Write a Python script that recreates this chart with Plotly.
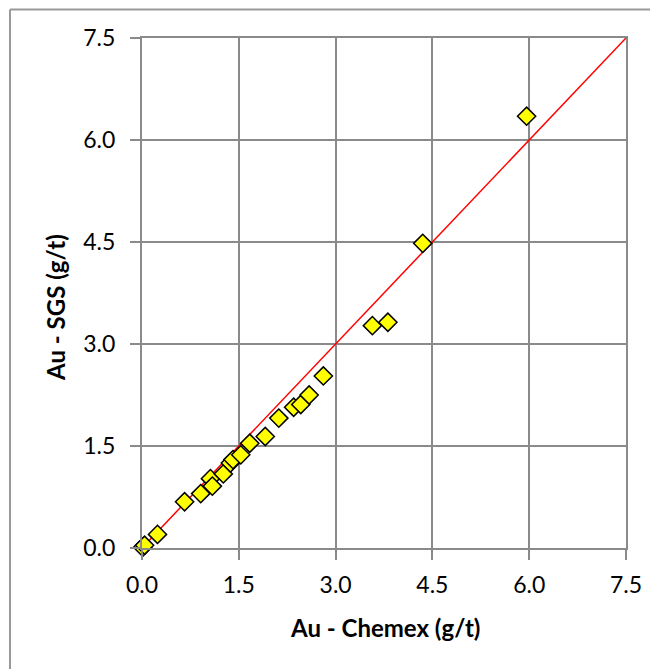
import plotly.graph_objects as go

# Data (g/t)
chemex = [0.01, 0.04, 0.24, 0.66, 0.91, 1.06, 1.09, 1.26, 1.37, 1.41, 1.53, 1.67,
          1.91, 2.12, 2.35, 2.46, 2.59, 2.81, 3.57, 3.81, 4.35, 5.96]
sgs = [0.01, 0.04, 0.20, 0.68, 0.80, 1.02, 0.91, 1.09, 1.25, 1.30, 1.37, 1.54,
       1.64, 1.91, 2.07, 2.11, 2.25, 2.53, 3.27, 3.32, 4.48, 6.35]

# 1:1 reference line
ref_x = [0.0, 7.5]
ref_y = [0.0, 7.5]

tick_vals = [0.0, 1.5, 3.0, 4.5, 6.0, 7.5]
tick_text = ["0.0", "1.5", "3.0", "4.5", "6.0", "7.5"]

x_title = "Au - Chemex (g/t)"
y_title = "Au - SGS (g/t)"

FONT = "Lato, Carlito, Calibri, sans-serif"
GRID = "#8a8a8a"

# page body has an 8px margin; figure is sized/offset to compensate
PW, PH = 650, 661
L, T, PLW, PLH = 134, 30, 484, 510

fig = go.Figure()
fig.add_trace(go.Scatter(
    x=ref_x, y=ref_y, mode="lines",
    line=dict(color="#ff0000", width=1.5),
    hoverinfo="skip", showlegend=False,
))
fig.add_trace(go.Scatter(
    x=chemex, y=sgs, mode="markers",
    marker=dict(symbol="diamond", size=14, color="#ffff00",
                line=dict(color="#000000", width=1.5)),
    cliponaxis=False, showlegend=False,
))

axis_common = dict(
    range=[0, 7.5], tickvals=tick_vals, ticktext=tick_text,
    showgrid=True, gridcolor=GRID, gridwidth=2,
    showline=True, linecolor=GRID, linewidth=2, mirror=True,
    ticks="outside", ticklen=10, tickcolor=GRID, tickwidth=2,
    zeroline=False, tickfont=dict(family=FONT, size=23, color="#000000"),
    fixedrange=True,
)

fig.update_xaxes(**axis_common, ticklabelstandoff=5)
fig.update_yaxes(**axis_common, ticklabelstandoff=10)

def px_x(px):
    return (px - 142) / PLW

def px_y(py):
    return (548 - py) / PLH

border = dict(color="#999999", width=2)
fig.update_layout(
    width=PW, height=PH,
    margin=dict(l=L, r=PW - L - PLW, t=T, b=PH - T - PLH),
    paper_bgcolor="#ffffff", plot_bgcolor="#ffffff",
    font=dict(family=FONT, color="#000000"),
    shapes=[
        dict(type="line", xref="paper", yref="paper",
             x0=px_x(10), x1=px_x(10), y0=px_y(680), y1=px_y(9.5),
             line=border, layer="below"),
        dict(type="line", xref="paper", yref="paper",
             x0=px_x(10), x1=px_x(670), y0=px_y(9.5), y1=px_y(9.5),
             line=border, layer="below"),
    ],
    annotations=[
        dict(text="<b>" + x_title + "</b>", xref="paper", yref="paper",
             x=px_x(385), y=px_y(627), xanchor="center", yanchor="middle",
             showarrow=False, font=dict(family=FONT, size=24, color="#000000")),
        dict(text="<b>" + y_title + "</b>", xref="paper", yref="paper",
             x=px_x(55), y=px_y(308), xanchor="center", yanchor="middle",
             textangle=-90, showarrow=False,
             font=dict(family=FONT, size=24, color="#000000")),
    ],
)

fig.write_html("out.html")
